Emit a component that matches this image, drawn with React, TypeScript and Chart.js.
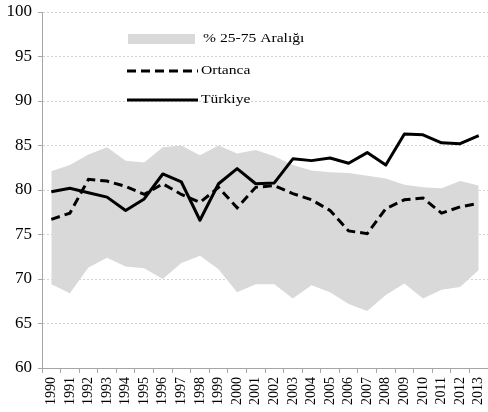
import React, { useEffect, useRef } from "react";
import { Chart, registerables } from "chart.js";

Chart.register(...registerables);

const years = [
  "1990", "1991", "1992", "1993", "1994", "1995", "1996", "1997", "1998", "1999", "2000", "2001",
  "2002", "2003", "2004", "2005", "2006", "2007", "2008", "2009", "2010", "2011", "2012", "2013",
];

const turkey = [
  79.8, 80.2, 79.7, 79.2, 77.7, 79.0, 81.8, 80.9, 76.6, 80.7, 82.4, 80.7,
  80.8, 83.5, 83.3, 83.6, 83.0, 84.2, 82.8, 86.3, 86.2, 85.3, 85.2, 86.1,
];

const median = [
  76.7, 77.4, 81.2, 81.0, 80.4, 79.5, 80.7, 79.5, 78.6, 80.3, 78.0, 80.3,
  80.5, 79.6, 78.9, 77.7, 75.4, 75.1, 77.9, 78.9, 79.1, 77.4, 78.1, 78.5,
];

const upper75 = [
  82.1, 82.8, 84.0, 84.8, 83.3, 83.1, 84.8, 85.0, 83.9, 85.0, 84.1, 84.5,
  83.8, 82.8, 82.2, 82.0, 81.9, 81.6, 81.3, 80.6, 80.3, 80.2, 81.0, 80.5,
];

const lower25 = [
  69.4, 68.4, 71.3, 72.4, 71.4, 71.2, 70.0, 71.8, 72.6, 71.1, 68.5, 69.4,
  69.4, 67.8, 69.3, 68.5, 67.2, 66.4, 68.2, 69.5, 67.8, 68.8, 69.1, 71.0,
];

const bandLabel = "% 25-75 Aralığı";
const medianLabel = "Ortanca";
const turkeyLabel = "Türkiye";

const yMin = 60;
const yMax = 100;
const yStep = 5;

const FONT = "'Liberation Serif', 'Times New Roman', serif";
const BAND_COLOR = "#d9d9d9";
const AXIS_COLOR = "#a6a6a6";
const MEDIAN_DASH = [9, 5];

function stretchedText(ctx: CanvasRenderingContext2D, text: string, x: number, y: number, sx: number) {
  ctx.save();
  ctx.translate(x, y);
  ctx.scale(sx, 1);
  ctx.fillText(text, 0, 0);
  ctx.restore();
}

const insideLegend = {
  id: "insideLegend",
  afterDraw(chart: any) {
    const ctx = chart.ctx;
    const area = chart.chartArea;
    const x0 = area.left + 85;
    const lineLen = 71;
    const rows = [area.top + 27, area.top + 59, area.top + 88];
    const sx = 1.2;
    ctx.save();
    ctx.font = `13px ${FONT}`;
    ctx.textBaseline = "middle";
    ctx.textAlign = "left";
    // band swatch
    ctx.fillStyle = BAND_COLOR;
    ctx.fillRect(x0 + 1, rows[0] - 5, lineLen - 4, 10);
    ctx.fillStyle = "#000";
    stretchedText(ctx, bandLabel, x0 + lineLen + 5, rows[0], sx);
    // median
    ctx.strokeStyle = "#000";
    ctx.lineWidth = 3;
    ctx.setLineDash(MEDIAN_DASH);
    ctx.beginPath();
    ctx.moveTo(x0, rows[1]);
    ctx.lineTo(x0 + lineLen, rows[1]);
    ctx.stroke();
    ctx.setLineDash([]);
    stretchedText(ctx, medianLabel, x0 + lineLen + 3, rows[1], sx);
    // turkey
    ctx.beginPath();
    ctx.moveTo(x0, rows[2]);
    ctx.lineTo(x0 + lineLen, rows[2]);
    ctx.stroke();
    stretchedText(ctx, turkeyLabel, x0 + lineLen + 3, rows[2], sx);
    ctx.restore();
  },
};

export default function App() {
  const canvasRef = useRef<HTMLCanvasElement | null>(null);

  useEffect(() => {
    if (!canvasRef.current) return;
    const chart = new Chart(canvasRef.current, {
      type: "line",
      data: {
        labels: years,
        datasets: [
          {
            label: turkeyLabel,
            data: turkey,
            borderColor: "#000",
            borderWidth: 3,
            pointRadius: 0,
            fill: false,
            tension: 0,
            borderJoinStyle: "round",
          },
          {
            label: medianLabel,
            data: median,
            borderColor: "#000",
            borderWidth: 3,
            borderDash: MEDIAN_DASH,
            pointRadius: 0,
            fill: false,
            tension: 0,
          },
          {
            label: "25",
            data: lower25,
            borderWidth: 0,
            borderColor: "rgba(0,0,0,0)",
            pointRadius: 0,
            fill: false,
          },
          {
            label: bandLabel,
            data: upper75,
            borderWidth: 0,
            borderColor: "rgba(0,0,0,0)",
            backgroundColor: BAND_COLOR,
            pointRadius: 0,
            fill: "-1",
          },
        ],
      } as any,
      options: {
        animation: false,
        responsive: true,
        maintainAspectRatio: false,
        layout: { padding: { top: 12, right: 0, left: 0, bottom: 0 } },
        plugins: {
          legend: { display: false },
          tooltip: { enabled: false },
          title: { display: false },
        },
        scales: {
          x: {
            type: "category",
            offset: true,
            grid: {
              display: true,
              drawOnChartArea: false,
              drawTicks: true,
              tickLength: 5,
              color: AXIS_COLOR,
              offset: true,
            },
            border: { display: true, color: AXIS_COLOR, width: 1 },
            ticks: {
              autoSkip: false,
              minRotation: 90,
              maxRotation: 90,
              padding: 4,
              color: "#000",
              font: { family: FONT, size: 14 },
            },
            afterFit: (s: any) => {
              s.height = 44;
              s.paddingLeft = 0;
              s.paddingRight = 0;
            },
          },
          y: {
            min: yMin,
            max: yMax,
            grid: {
              display: true,
              drawTicks: true,
              tickLength: 4,
              tickColor: AXIS_COLOR,
              tickBorderDash: [],
              color: "#d4d4d4",
              lineWidth: 1,
            },
            border: { display: true, color: AXIS_COLOR, width: 1, dash: [2, 2] },
            ticks: {
              stepSize: yStep,
              padding: 6,
              color: "#000",
              font: { family: FONT, size: 17 },
            },
            afterFit: (s: any) => {
              s.width = 42;
              s.paddingTop = 0;
              s.paddingBottom = 0;
            },
          },
        },
      } as any,
      plugins: [insideLegend],
    });
    return () => chart.destroy();
  }, []);

  return (
    <div style={{ position: "absolute", left: 0, top: 0, width: 488, height: 412 }}>
      <canvas ref={canvasRef} />
    </div>
  );
}
